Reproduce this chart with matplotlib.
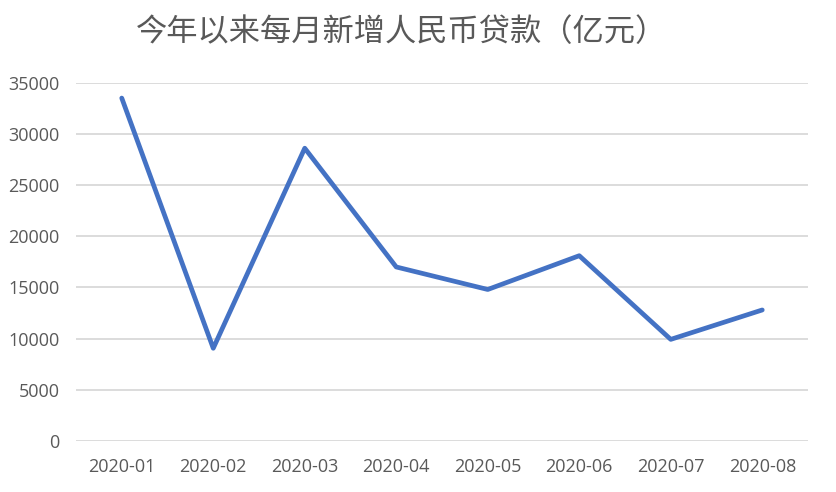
import matplotlib
matplotlib.use("Agg")
import matplotlib.pyplot as plt

plt.rcParams['font.family'] = ['Noto Sans CJK SC', 'DejaVu Sans']

# 每月新增人民币贷款（亿元）
months = ["2020-01", "2020-02", "2020-03", "2020-04",
          "2020-05", "2020-06", "2020-07", "2020-08"]
loans = [33500, 9057, 28600, 17000, 14800, 18100, 9927, 12800]
yticks = [0, 5000, 10000, 15000, 20000, 25000, 30000, 35000]

fig = plt.figure(figsize=(8.36, 4.92), dpi=100)
ax = fig.add_axes([76/836, 1 - 441/492, 732/836, (441 - 82.7)/492])

x = range(len(months))
ax.plot(x, loans, color="#4472C4", linewidth=3.4, solid_joinstyle="round", solid_capstyle="round")

ax.set_xlim(-0.5, len(months) - 0.5)
ax.set_ylim(0, 35000)
ax.set_yticks(yticks)
ax.set_xticks(list(x))
ax.set_xticklabels(months)
ax.grid(axis="y", color="#D9D9D9", linewidth=1.3)
ax.set_axisbelow(True)
for s in ax.spines.values():
    s.set_visible(False)
ax.tick_params(length=0, colors="#595959", labelsize=13, pad=12)
ax.tick_params(axis="y", pad=12)
for lab in ax.get_xticklabels() + ax.get_yticklabels():
    lab.set_family(["Open Sans", "DejaVu Sans"])

fig.text(402/836, 1 - 32/492, "今年以来每月新增人民币贷款（亿元）", ha="center", va="center",
         fontsize=22.5, color="#595959")

fig.savefig("out.png", dpi=100)
